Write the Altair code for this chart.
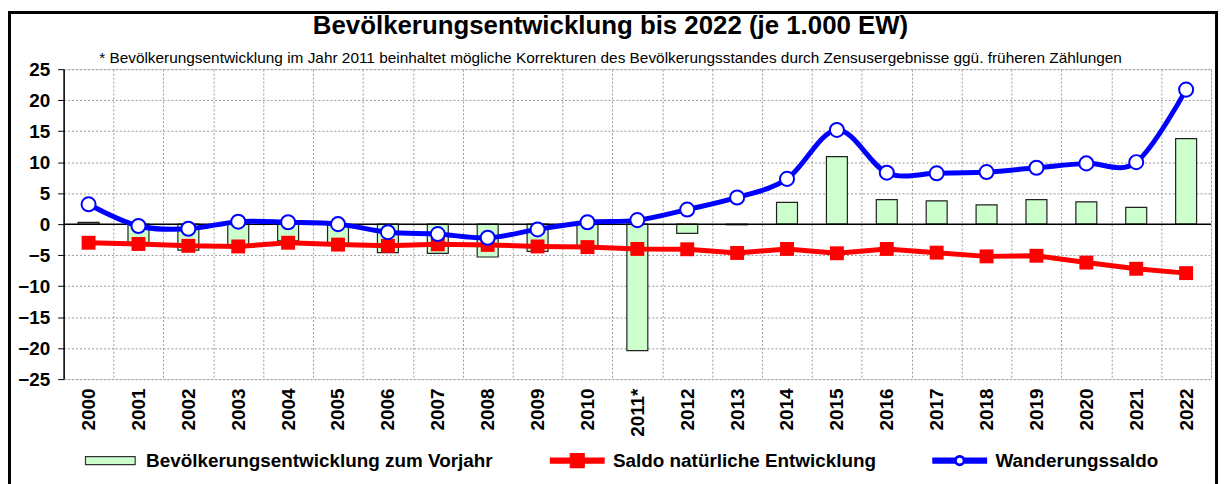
import altair as alt
import pandas as pd

years = ["2000", "2001", "2002", "2003", "2004", "2005", "2006", "2007", "2008", "2009",
         "2010", "2011*", "2012", "2013", "2014", "2015", "2016", "2017", "2018", "2019",
         "2020", "2021", "2022"]
bev = [0.3, -3.4, -4.2, -3.6, -2.7, -3.3, -4.6, -4.7, -5.3, -4.4,
       -3.6, -20.4, -1.5, -0.1, 3.5, 10.9, 3.95, 3.75, 3.1, 3.95,
       3.6, 2.7, 13.8]
nat = [-3.0, -3.2, -3.5, -3.6, -3.0, -3.3, -3.5, -3.25, -3.35, -3.6,
       -3.7, -4.0, -4.05, -4.65, -4.0, -4.7, -4.0, -4.6, -5.2, -5.1,
       -6.2, -7.2, -7.9]
wand = [3.2, -0.3, -0.75, 0.4, 0.3, 0.0, -1.3, -1.6, -2.2, -0.85,
        0.3, 0.65, 2.35, 4.3, 7.3, 15.2, 8.3, 8.2, 8.4, 9.1,
        9.8, 10.0, 21.7]

series_names = ["Bevölkerungsentwicklung zum Vorjahr", "Saldo natürliche Entwicklung", "Wanderungssaldo"]
series_fill = ["#CCFFCC", "#FF0000", "#0000FF"]
series_stroke = ["#333333", "#FF0000", "#0000FF"]
y_ticks = [-25, -20, -15, -10, -5, 0, 5, 10, 15, 20, 25]

title_text = "Bevölkerungsentwicklung bis 2022 (je 1.000 EW)"
subtitle_text = ("* Bevölkerungsentwicklung im Jahr 2011 beinhaltet mögliche Korrekturen des "
                 "Bevölkerungsstandes durch Zensusergebnisse ggü. früheren Zählungen")

df = pd.DataFrame({"Jahr": years, "bev": bev, "nat": nat, "wand": wand})
leg_df = pd.DataFrame({"series": series_names})
frame_df = pd.DataFrame({"k": [0]})

FONT = "Liberation Sans"

x_enc = alt.X(
    "Jahr:N", sort=None,
    scale=alt.Scale(paddingInner=0, paddingOuter=0),
    axis=alt.Axis(title=None, labelAngle=270, labelFontSize=19, labelFontWeight="bold",
                  labelColor="black", labelPadding=9, ticks=False, domain=False,
                  grid=True, tickBand="extent", gridColor="#9a9a9a", gridDash=[2, 2],
                  labelFont=FONT, labelOverlap=False),
)
y_scale = alt.Scale(domain=[-25, 25], nice=False, zero=False)
y_axis = alt.Axis(title=None, values=y_ticks, labelFontSize=19, labelFontWeight="bold",
                  labelColor="black", labelPadding=8, tickSize=6, tickColor="black",
                  domainColor="black", domainWidth=1.5, gridColor="#9a9a9a", gridDash=[2, 2],
                  labelFont=FONT, labelOverlap=False)


def y_enc(field):
    return alt.Y(field, type="quantitative", scale=y_scale, axis=y_axis)


frame = alt.Chart(frame_df).mark_rect(fillOpacity=0, stroke="black", strokeWidth=3).encode(
    x=alt.value(-54.5), x2=alt.value(1160.5), y=alt.value(-57), y2=alt.value(440)
)

bars = alt.Chart(df).mark_bar(
    fill="#CCFFCC", stroke="#222222", strokeWidth=1.2, width=alt.RelativeBandSize(0.42)
).encode(x=x_enc, y=y_enc("bev"))

zero = alt.Chart(frame_df).mark_rule(color="black", strokeWidth=1.5).encode(
    y=alt.datum(0, scale=y_scale, axis=y_axis))

red_line = alt.Chart(df).mark_line(color="#FF0000", strokeWidth=5).encode(x=x_enc, y=y_enc("nat"))
red_pts = alt.Chart(df).mark_point(shape="square", filled=True, color="#FF0000", size=196,
                                   opacity=1).encode(x=x_enc, y=y_enc("nat"))
blue_line = alt.Chart(df).mark_line(color="#0000FF", strokeWidth=5,
                                    interpolate="cardinal").encode(x=x_enc, y=y_enc("wand"))
blue_pts = alt.Chart(df).mark_point(shape="circle", filled=True, fill="white", stroke="#0000FF",
                                    strokeWidth=2, size=200, opacity=1).encode(x=x_enc, y=y_enc("wand"))

sym_paths = [
    "M-0.926,-0.148H0.926V0.148H-0.926Z",
    "M-1,-0.093H1V0.093H-1Z M-0.26,-0.26H0.26V0.26H-0.26Z",
    "M-1,-0.093H-0.19V0.093H-1Z M0.19,-0.093H1V0.093H0.19Z "
    "M0.19,0A0.19,0.19 0 1,1 -0.19,0A0.19,0.19 0 1,1 0.19,0Z "
    "M0.13,0A0.13,0.13 0 1,0 -0.13,0A0.13,0.13 0 1,0 0.13,0Z",
]

leg = alt.Legend(title=None, orient="none", legendX=19, legendY=366, direction="horizontal",
                 symbolSize=2916, symbolStrokeWidth=1.2, symbolOpacity=1, labelFontSize=19,
                 labelFontWeight="bold", labelColor="black", labelOffset=8, columnPadding=54,
                 labelLimit=600, padding=0, labelFont=FONT)

legend_layer = alt.Chart(leg_df).mark_point(filled=True, size=0, opacity=1).encode(
    color=alt.Color("series:N", scale=alt.Scale(domain=series_names, range=series_fill), legend=leg),
    stroke=alt.Stroke("series:N", scale=alt.Scale(domain=series_names, range=series_stroke), legend=leg),
    shape=alt.Shape("series:N", scale=alt.Scale(domain=series_names, range=sym_paths), legend=leg),
)

chart = alt.layer(frame, bars, zero, red_line, red_pts, blue_line, blue_pts, legend_layer).properties(
    width=1155, height=312,
    autosize=alt.AutoSizeParams(type="none"),
    padding={"left": 56, "top": 60, "right": 9, "bottom": 104},
    title=alt.TitleParams(text=title_text, subtitle=subtitle_text, fontSize=26, fontWeight="bold",
                          color="black", font=FONT, subtitleFont=FONT, subtitleFontSize=15.5,
                          subtitleColor="black", anchor="middle", frame="group", dx=-27,
                          dy=60, offset=4, subtitlePadding=12),
).configure_view(strokeWidth=0).configure(font=FONT)

chart.save("out.html", embed_options={"renderer": "svg", "actions": False})
